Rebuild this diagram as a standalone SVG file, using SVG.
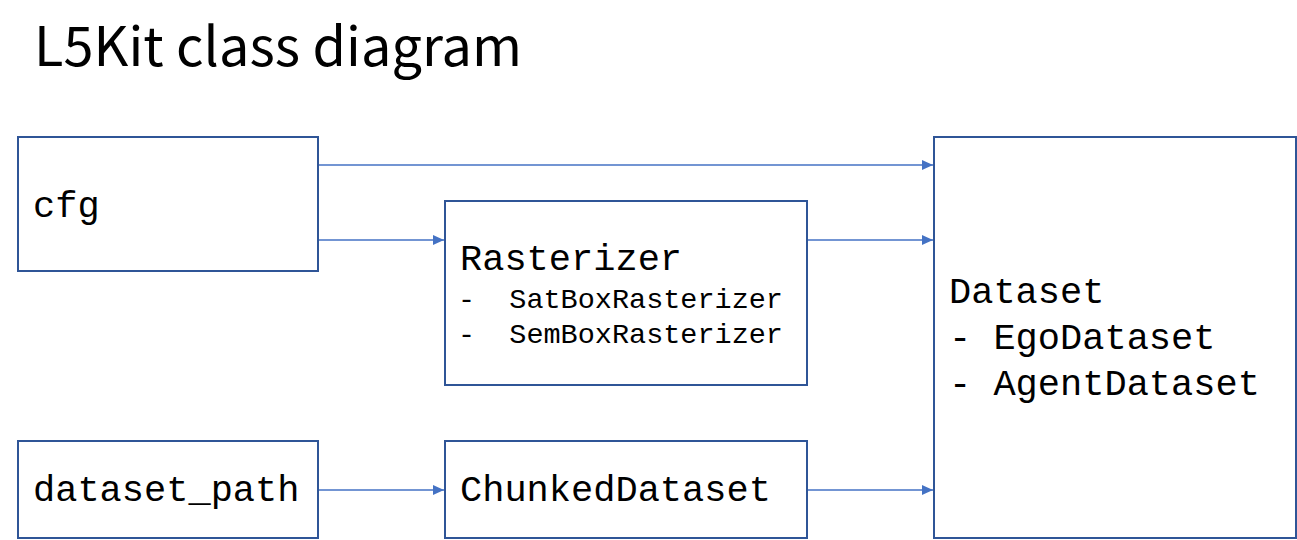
<svg xmlns="http://www.w3.org/2000/svg" width="1297" height="540" viewBox="0 0 1297 540">
<defs>
<style>
.box{fill:#fff;stroke:#2F5597;stroke-width:2}
.mono{font-family:"Liberation Mono","Courier New",monospace;fill:#000}
.big{font-size:37px}
.small{font-size:28.5px}
.title{font-family:"Noto Sans CJK JP","Noto Sans",sans-serif;font-size:54px;fill:#000}
.conn{stroke:#4472C4;stroke-width:1.3;fill:none;marker-end:url(#arr)}
</style>
<marker id="arr" viewBox="0 0 10 10" refX="10" refY="5" markerWidth="11" markerHeight="10" markerUnits="userSpaceOnUse" orient="auto" preserveAspectRatio="none">
<path d="M0,0 L10,5 L0,10 z" fill="#4472C4"/>
</marker>
</defs>
<rect width="1297" height="540" fill="#fff"/>
<text class="title" x="34" y="66" textLength="488" lengthAdjust="spacing">L5Kit class diagram</text>
<g id="cfg">
<rect class="box" x="18" y="137" width="300" height="134"/>
<text class="mono big" x="33" y="217">cfg</text>
</g>
<g id="rasterizer">
<rect class="box" x="445" y="201" width="362" height="184"/>
<text class="mono big" x="460" y="270">Rasterizer</text>
<text class="mono small" x="458" y="308" xml:space="preserve">-  SatBoxRasterizer</text>
<text class="mono small" x="458" y="343" xml:space="preserve">-  SemBoxRasterizer</text>
</g>
<g id="dataset_path">
<rect class="box" x="18" y="441" width="300" height="97"/>
<text class="mono big" x="33" y="501">dataset_path</text>
</g>
<g id="chunked">
<rect class="box" x="445" y="441" width="362" height="97"/>
<text class="mono big" x="460" y="501">ChunkedDataset</text>
</g>
<g id="dataset">
<rect class="box" x="934" y="137" width="362" height="401"/>
<text class="mono big" x="949" y="303">Dataset</text>
<text class="mono big" x="949" y="349" xml:space="preserve">- EgoDataset</text>
<text class="mono big" x="949" y="395" xml:space="preserve">- AgentDataset</text>
</g>
<g id="connectors">
<line class="conn" x1="319" y1="165" x2="933" y2="165"/>
<line class="conn" x1="319" y1="240" x2="444" y2="240"/>
<line class="conn" x1="808" y1="240" x2="933" y2="240"/>
<line class="conn" x1="319" y1="490" x2="444" y2="490"/>
<line class="conn" x1="808" y1="490" x2="933" y2="490"/>
</g>
</svg>
